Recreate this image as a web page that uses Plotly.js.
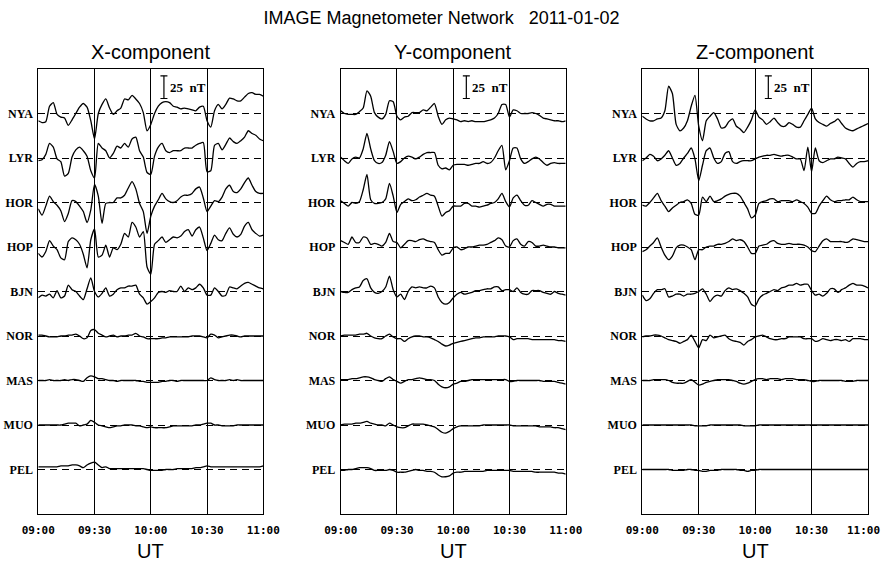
<!DOCTYPE html>
<html>
<head>
<meta charset="utf-8">
<script src="https://cdn.plot.ly/plotly-3.0.1.min.js"></script>
<style>html,body{margin:0;padding:0;background:#fff;}#chart{width:883px;height:563px;}</style>
</head>
<body>
<div id="chart"></div>
<script>
// ---- data (minutes after 09:00 UT; deviations in nT from each station's baseline) ----
const times = [0,2,4,6,8,10,12,14,16,18,20,22,24,26,28,30,32,34,36,38,40,42,44,46,48,50,52,54,56,58,60,62,64,66,68,70,72,74,76,78,80,82,84,86,88,90,92,94,96,98,100,102,104,106,108,110,112,114,116,118,120];
const stations = ['NYA','LYR','HOR','HOP','BJN','NOR','MAS','MUO','PEL'];
const tickTimes = [0,30,60,90,120];
const tickLabels = ['09:00','09:30','10:00','10:30','11:00'];
const components = ['X-component','Y-component','Z-component'];
const scaleBarNT = 25;

const X_NYA = [-8,-10,-9,8,12,-1,-4,-5,-13,-7, 0,7,11,7,-8,-28,0,10,16,6, -1,3,6,16,15,20,16,11,1,-19, -12,0,8,12,13,12,8,7,5,6, 5,4,3,7,8,-8,-15,3,10,5, 10,17,16,14,14,18,22,23,21,21, 19];
const X_LYR = [-3,-2,4,16,12,-1,-4,-20,-17,1, 9,12,8,2,-14,-22,16,11,8,0, 5,13,11,16,12,21,23,8,1,-16, -18,2,12,16,8,6,8,8,8,11, 11,11,14,16,17,-15,-14,14,16,9, 15,22,18,16,19,23,30,27,25,21, 19];
const X_HOR = [-7,-14,-4,7,1,-3,-9,-21,-12,2, 1,-4,-10,-22,-8,20,7,-23,-1,0, 0,5,5,8,16,23,15,-1,-10,-34, -15,-4,3,10,4,1,0,2,6,8, 8,10,15,17,5,-10,-4,2,1,6, 15,19,12,11,15,22,27,19,12,10, 10];
const X_HOP = [-7,-11,-5,7,1,-3,-12,-14,6,10, 8,3,-8,-23,8,20,-11,-9,2,-11, -1,-3,3,15,11,27,22,11,17,-22, -30,3,7,11,5,8,11,10,12,17, 19,12,19,22,10,-4,4,13,8,7, 15,21,14,11,14,23,27,19,15,12, 13];
const X_BJN = [-7,-4,-5,-3,-7,1,-7,-5,7,2, 0,-5,-9,3,15,0,-6,-2,4,-5, -3,2,4,4,6,6,7,-3,-7,-14, -11,-7,-1,0,-1,1,0,0,6,0, 4,2,4,8,4,-4,-4,4,0,-5, -4,5,4,3,6,9,10,8,6,4, 3];
const X_NOR = [1,1,0,-1,-1,-1,0,0,1,1, 2,0,-3,-2,6,7,3,1,-1,0, 1,-1,0,0,1,1,3,0,-1,-3, -3,-3,-3,-2,-2,-1,-1,-1,-1,-1, -1,0,0,0,-1,-2,2,1,-2,-1, 0,1,1,0,-1,0,0,0,0,0, 0];
const X_MAS = [0,0,0,1,0,0,0,1,0,1, 1,0,-1,3,5,4,2,2,1,0, 0,-1,0,0,0,0,0,-1,-1,-2, -2,-2,-2,-1,-1,0,0,-1,0,0, 0,0,0,0,0,0,3,1,0,0, 0,1,0,1,0,0,0,0,0,0, 0];
const X_MUO = [0,0,0,0,0,0,0,1,2,2, 2,-1,0,1,5,3,0,-1,-2,-3, -2,-1,-1,0,0,0,-1,-1,-2,-3, -2,-3,-3,-3,-3,-2,-1,-1,-1,-1, -1,-1,0,0,1,2,2,0,0,-1, -1,-1,-1,0,0,0,0,0,0,0, 0];
const X_PEL = [3,3,3,3,3,3,4,4,4,5, 5,4,2,5,7,8,5,2,3,1, 1,1,1,1,1,1,1,1,1,0, -1,-1,-1,-1,0,0,0,1,1,1, 1,1,2,2,3,4,3,3,3,3, 3,3,3,3,3,3,3,3,3,3, 4];

const Y_NYA = [3,0,-1,-1,-1,2,6,25,19,1, -4,-6,-1,14,13,-3,-7,-4,-3,1, 1,1,4,3,7,11,-3,-12,-7,-5, -6,-7,-9,-8,-9,-8,-9,-9,-9,-8, -7,-5,0,10,10,-4,4,3,0,0, 0,1,0,-2,-5,-6,-7,-8,-8,-9, -8];
const Y_LYR = [1,-3,-6,-1,1,0,10,27,10,-3, -6,-5,3,18,7,-6,-4,0,2,1, -1,1,4,6,6,6,-8,-12,-11,-13, -8,-7,-7,-7,-8,-7,-6,-6,-4,-6, -5,0,8,14,-13,-3,11,11,-1,-6, -4,-1,1,-1,-5,-8,-6,-5,-6,-6, -6];
const Y_HOR = [2,-1,-4,0,-1,1,14,31,3,-1, -1,0,4,21,7,-11,-2,1,4,2, 3,6,8,10,8,7,-4,-15,-11,-9, -4,-4,-4,-1,-1,-4,-4,-5,-4,-3, -1,0,4,10,1,-5,5,8,2,-3, -3,2,0,-2,-4,-2,-2,-4,-4,-4, -4];
const Y_HOP = [7,5,3,11,5,5,11,10,3,4, 3,1,5,15,6,5,-1,3,7,7, 6,8,9,7,6,5,-3,-9,-7,-7, -1,0,-3,-2,0,0,1,2,2,3, 5,7,10,8,1,0,7,9,3,1, 6,5,1,1,2,1,0,0,-1,-1, -1];
const Y_BJN = [0,-1,-1,2,4,5,12,14,4,-1, -2,0,5,17,2,-6,-3,-9,0,5, 4,5,4,4,6,4,-6,-12,-14,-12, -7,-3,-1,-3,-2,-1,1,1,2,3, 3,5,5,1,2,2,0,4,-1,-3, -3,1,1,1,-1,-2,-3,0,-2,-3, -4];
const Y_NOR = [0,1,1,1,1,2,2,3,0,-2, -3,-3,0,2,-1,-3,-3,-6,-3,-1, 0,0,-1,-1,-2,-4,-6,-9,-11,-10, -8,-7,-6,-5,-4,-3,-2,-2,-1,-1, -1,-1,0,0,0,-1,-4,-3,-3,-3, -3,-4,-4,-4,-4,-4,-4,-4,-5,-5, -6];
const Y_MAS = [1,1,1,2,2,3,4,4,3,1, 0,-1,2,4,1,-1,-3,-1,1,1, 2,3,2,1,1,0,-4,-7,-8,-7, -4,-3,-1,-1,0,1,1,1,1,1, 1,1,1,1,1,-1,-1,0,0,0, 0,0,0,0,-1,-1,-1,-1,-2,-3, -4];
const Y_MUO = [0,1,1,1,2,2,3,4,2,1, 0,0,-1,2,0,-2,-3,-3,-1,1, 1,1,1,0,-1,-2,-5,-8,-9,-7, -4,-2,-1,-1,-1,-1,-1,-1,0,0, 0,0,0,0,0,0,-1,-1,-1,-1, -1,-1,-1,-2,-2,-2,-2,-3,-3,-4, -5];
const Y_PEL = [-1,-1,0,0,1,2,2,2,1,-1, -1,-1,-1,0,-1,-3,-3,-3,-2,-1, 0,-1,-1,-2,-2,-3,-6,-8,-8,-7, -4,-3,-3,-2,-2,-2,-2,-2,-2,-1, -1,-1,-1,-1,-1,-1,-2,-2,-2,-2, -2,-2,-3,-3,-3,-3,-3,-3,-4,-4, -5];

const Z_NYA = [-3,-6,-8,-8,-6,-5,3,30,22,-12, -19,-16,-8,8,20,-14,-30,-8,-3,1, -6,-16,-15,-9,-6,-14,-17,-21,-15,-7, 4,-4,-7,-12,-9,-5,-10,-14,-14,-10, -12,-15,-15,-8,-1,6,-6,-10,-12,-14, -11,-9,-6,-11,-16,-18,-19,-17,-15,-13, -11];
const Z_LYR = [-3,0,4,2,-3,-1,3,8,0,-8, -6,0,5,11,-1,-25,-8,8,11,0, -6,-4,5,7,-4,-6,-4,-3,-3,-3, -1,1,2,3,3,4,3,2,3,3, 1,-1,-1,-14,12,-15,11,-3,-5,-3, -1,-1,1,0,-1,-6,-10,-6,-4,-4, -3];
const Z_HOR = [-3,-4,0,5,10,2,-4,-10,-6,-3, 0,1,3,-1,-13,-14,6,1,7,1, 2,4,7,9,10,10,7,0,-7,-17, -14,-1,1,2,4,4,1,2,2,2, 1,3,1,-1,-5,-12,-12,-4,2,7, 3,1,2,2,3,3,6,3,1,1, 1];
const Z_HOP = [-5,-3,1,5,10,0,-9,-14,-10,-1, 2,2,0,-3,-14,-3,-3,0,1,1, 3,3,4,6,9,7,8,6,0,-7, -7,1,2,3,6,7,4,3,3,4, 3,3,3,2,0,-4,-5,1,7,9, 6,6,6,6,5,6,9,8,7,6, 6];
const Z_BJN = [-4,-10,-8,-2,2,2,3,-6,-5,-3, -3,-5,-3,-3,-2,0,3,-3,-11,-6, -4,-5,1,4,2,3,1,-2,-6,-14, -16,-8,-4,-2,0,2,1,4,5,7, 7,9,7,8,8,1,-4,-3,-5,-2, 3,3,-1,2,4,7,9,7,7,6, 4];
const Z_NOR = [-1,0,0,1,1,0,-2,-4,-5,-6, -8,-6,-4,1,-6,-13,-4,-5,1,-2, -1,0,1,-3,-5,-6,-7,-10,-6,-4, -1,0,1,-1,-3,-4,-4,-3,-3,-1, -1,-1,-1,-3,-3,-3,-6,-5,-3,-4, -5,-4,-4,-5,-4,-6,-3,-3,-3,-4, -4];
const Z_MAS = [0,0,0,1,1,1,1,0,-2,-3, -3,-3,-1,1,-2,-5,-4,-2,-1,0, 1,1,1,1,0,-1,-3,-4,-3,-1, 1,2,2,1,2,2,2,1,2,2, 2,1,1,1,0,-1,-1,0,0,0, 0,0,0,0,-1,-1,-1,0,0,0, 0];
const Z_MUO = [0,0,0,0,0,0,0,0,0,0, 0,0,0,0,-1,-1,-1,-1,0,0, 0,0,0,0,0,0,0,-1,-1,-1, -1,0,0,0,0,0,0,0,0,0, 0,0,0,0,0,0,0,0,0,0, 0,0,0,0,0,0,0,0,0,0, 0];
const Z_PEL = [0,0,0,0,0,0,0,0,-1,-1, -1,-1,0,0,-1,-1,-2,-2,-1,-1, -1,0,0,0,0,0,-1,-1,-2,-1, -1,0,0,0,0,0,0,0,0,0, 0,0,0,0,0,0,0,0,0,0, 0,0,0,0,0,0,0,0,0,0, 0];

// ---- build ----
const panelSeries = [
  [X_NYA,X_LYR,X_HOR,X_HOP,X_BJN,X_NOR,X_MAS,X_MUO,X_PEL],
  [Y_NYA,Y_LYR,Y_HOR,Y_HOP,Y_BJN,Y_NOR,Y_MAS,Y_MUO,Y_PEL],
  [Z_NYA,Z_LYR,Z_HOR,Z_HOP,Z_BJN,Z_NOR,Z_MAS,Z_MUO,Z_PEL]
];
const W = 883, H = 563;
const slot = 49;                     // nT between station baselines
const baselines = stations.map((s,i) => (stations.length - i) * slot);
const yMax = (stations.length + 1) * slot;
const xDomains = [[38.3/W, 263.3/W],[340.7/W, 565.7/W],[642.3/W, 868/W]];
const yDomain = [(H-514)/H, (H-69)/H];
const barX = 67, barBottom = 457.5;
const tickFont = {family: 'DejaVu Sans Mono, monospace', size: 11, color: '#000', weight: 'bold'};

const traces = [];
const annotations = [];
const layout = {
  width: W, height: H,
  margin: {l:0, r:0, t:0, b:0},
  paper_bgcolor: '#fff', plot_bgcolor: '#fff',
  showlegend: false,
  font: {family: 'Liberation Sans, Arial, sans-serif', color: '#000'},
  title: {
    text: 'IMAGE Magnetometer Network\u00a0\u00a0\u00a02011-01-02',
    x: 0.5, xanchor: 'center', y: (H-18)/H, yanchor: 'middle',
    font: {family: 'Liberation Sans, Arial, sans-serif', size: 18, color: '#000'}
  },
  annotations: annotations
};

panelSeries.forEach((series, p) => {
  const xa = p === 0 ? 'x' : 'x' + (p+1);
  const ya = p === 0 ? 'y' : 'y' + (p+1);
  const xKey = p === 0 ? 'xaxis' : 'xaxis' + (p+1);
  const yKey = p === 0 ? 'yaxis' : 'yaxis' + (p+1);
  series.forEach((vals, i) => {
    traces.push({
      type: 'scatter', mode: 'lines', x: times,
      y: vals.map(v => baselines[i] + v),
      xaxis: xa, yaxis: ya,
      line: {color: '#000', width: 1.3, shape: 'spline', smoothing: 0.6},
      hoverinfo: 'skip'
    });
  });
  // scale bar
  traces.push({
    type: 'scatter', mode: 'lines+markers', x: [barX, barX],
    y: [barBottom, barBottom + scaleBarNT],
    xaxis: xa, yaxis: ya,
    line: {color: '#000', width: 1.2},
    marker: {symbol: 'line-ew', size: 5, line: {color: '#000', width: 1.2}},
    hoverinfo: 'skip'
  });
  annotations.push({
    xref: xa, yref: ya, x: barX + 2.2, y: barBottom + scaleBarNT/2,
    xanchor: 'left', yanchor: 'middle', showarrow: false,
    text: '<b>25\u00a0\u00a0nT</b>',
    font: {family: 'Liberation Serif, Times New Roman, serif', size: 13, color: '#000'}
  });
  annotations.push({
    xref: xa + ' domain', yref: 'paper', x: 0.5, y: (H-52)/H,
    xanchor: 'center', yanchor: 'middle', showarrow: false,
    text: components[p],
    font: {family: 'Liberation Sans, Arial, sans-serif', size: 20, color: '#000'}
  });
  annotations.push({
    xref: xa + ' domain', yref: 'paper', x: 0.5, y: (H-551)/H,
    xanchor: 'center', yanchor: 'middle', showarrow: false,
    text: 'UT',
    font: {family: 'Liberation Sans, Arial, sans-serif', size: 20, color: '#000'}
  });
  // last panel: its final time label would run past the page edge, so it is
  // drawn as a right-aligned annotation that ends at the edge instead
  const lastPanel = p === panelSeries.length - 1;
  const labels = tickLabels.map((t, k) => (lastPanel && k === tickLabels.length - 1) ? '' : t);
  if (lastPanel) {
    annotations.push({
      xref: 'paper', yref: 'paper', x: (W - 1) / W, y: (H - 530) / H,
      xanchor: 'right', yanchor: 'middle', showarrow: false,
      text: tickLabels[tickLabels.length - 1], font: tickFont
    });
  }
  layout[xKey] = {
    domain: xDomains[p], anchor: ya, range: [times[0], times[times.length-1]],
    tickmode: 'array', tickvals: tickTimes, ticktext: labels,
    ticks: '', ticklabelstandoff: 6,
    tickfont: tickFont,
    showgrid: true, gridcolor: '#000', gridwidth: 1,
    showline: true, linecolor: '#000', linewidth: 1, mirror: true,
    zeroline: false, fixedrange: true
  };
  layout[yKey] = {
    domain: yDomain, anchor: xa, range: [0, yMax],
    tickmode: 'array', tickvals: baselines, ticktext: stations,
    ticks: '', ticklabelstandoff: 2,
    tickfont: {family: 'Liberation Serif, Times New Roman, serif', size: 12, color: '#000', weight: 'bold'},
    showgrid: true, gridcolor: '#000', gridwidth: 1, griddash: '7px,5px',
    showline: true, linecolor: '#000', linewidth: 1, mirror: true,
    zeroline: false, fixedrange: true
  };
});

Plotly.newPlot('chart', traces, layout, {displayModeBar: false, staticPlot: true});
</script>
</body>
</html>
